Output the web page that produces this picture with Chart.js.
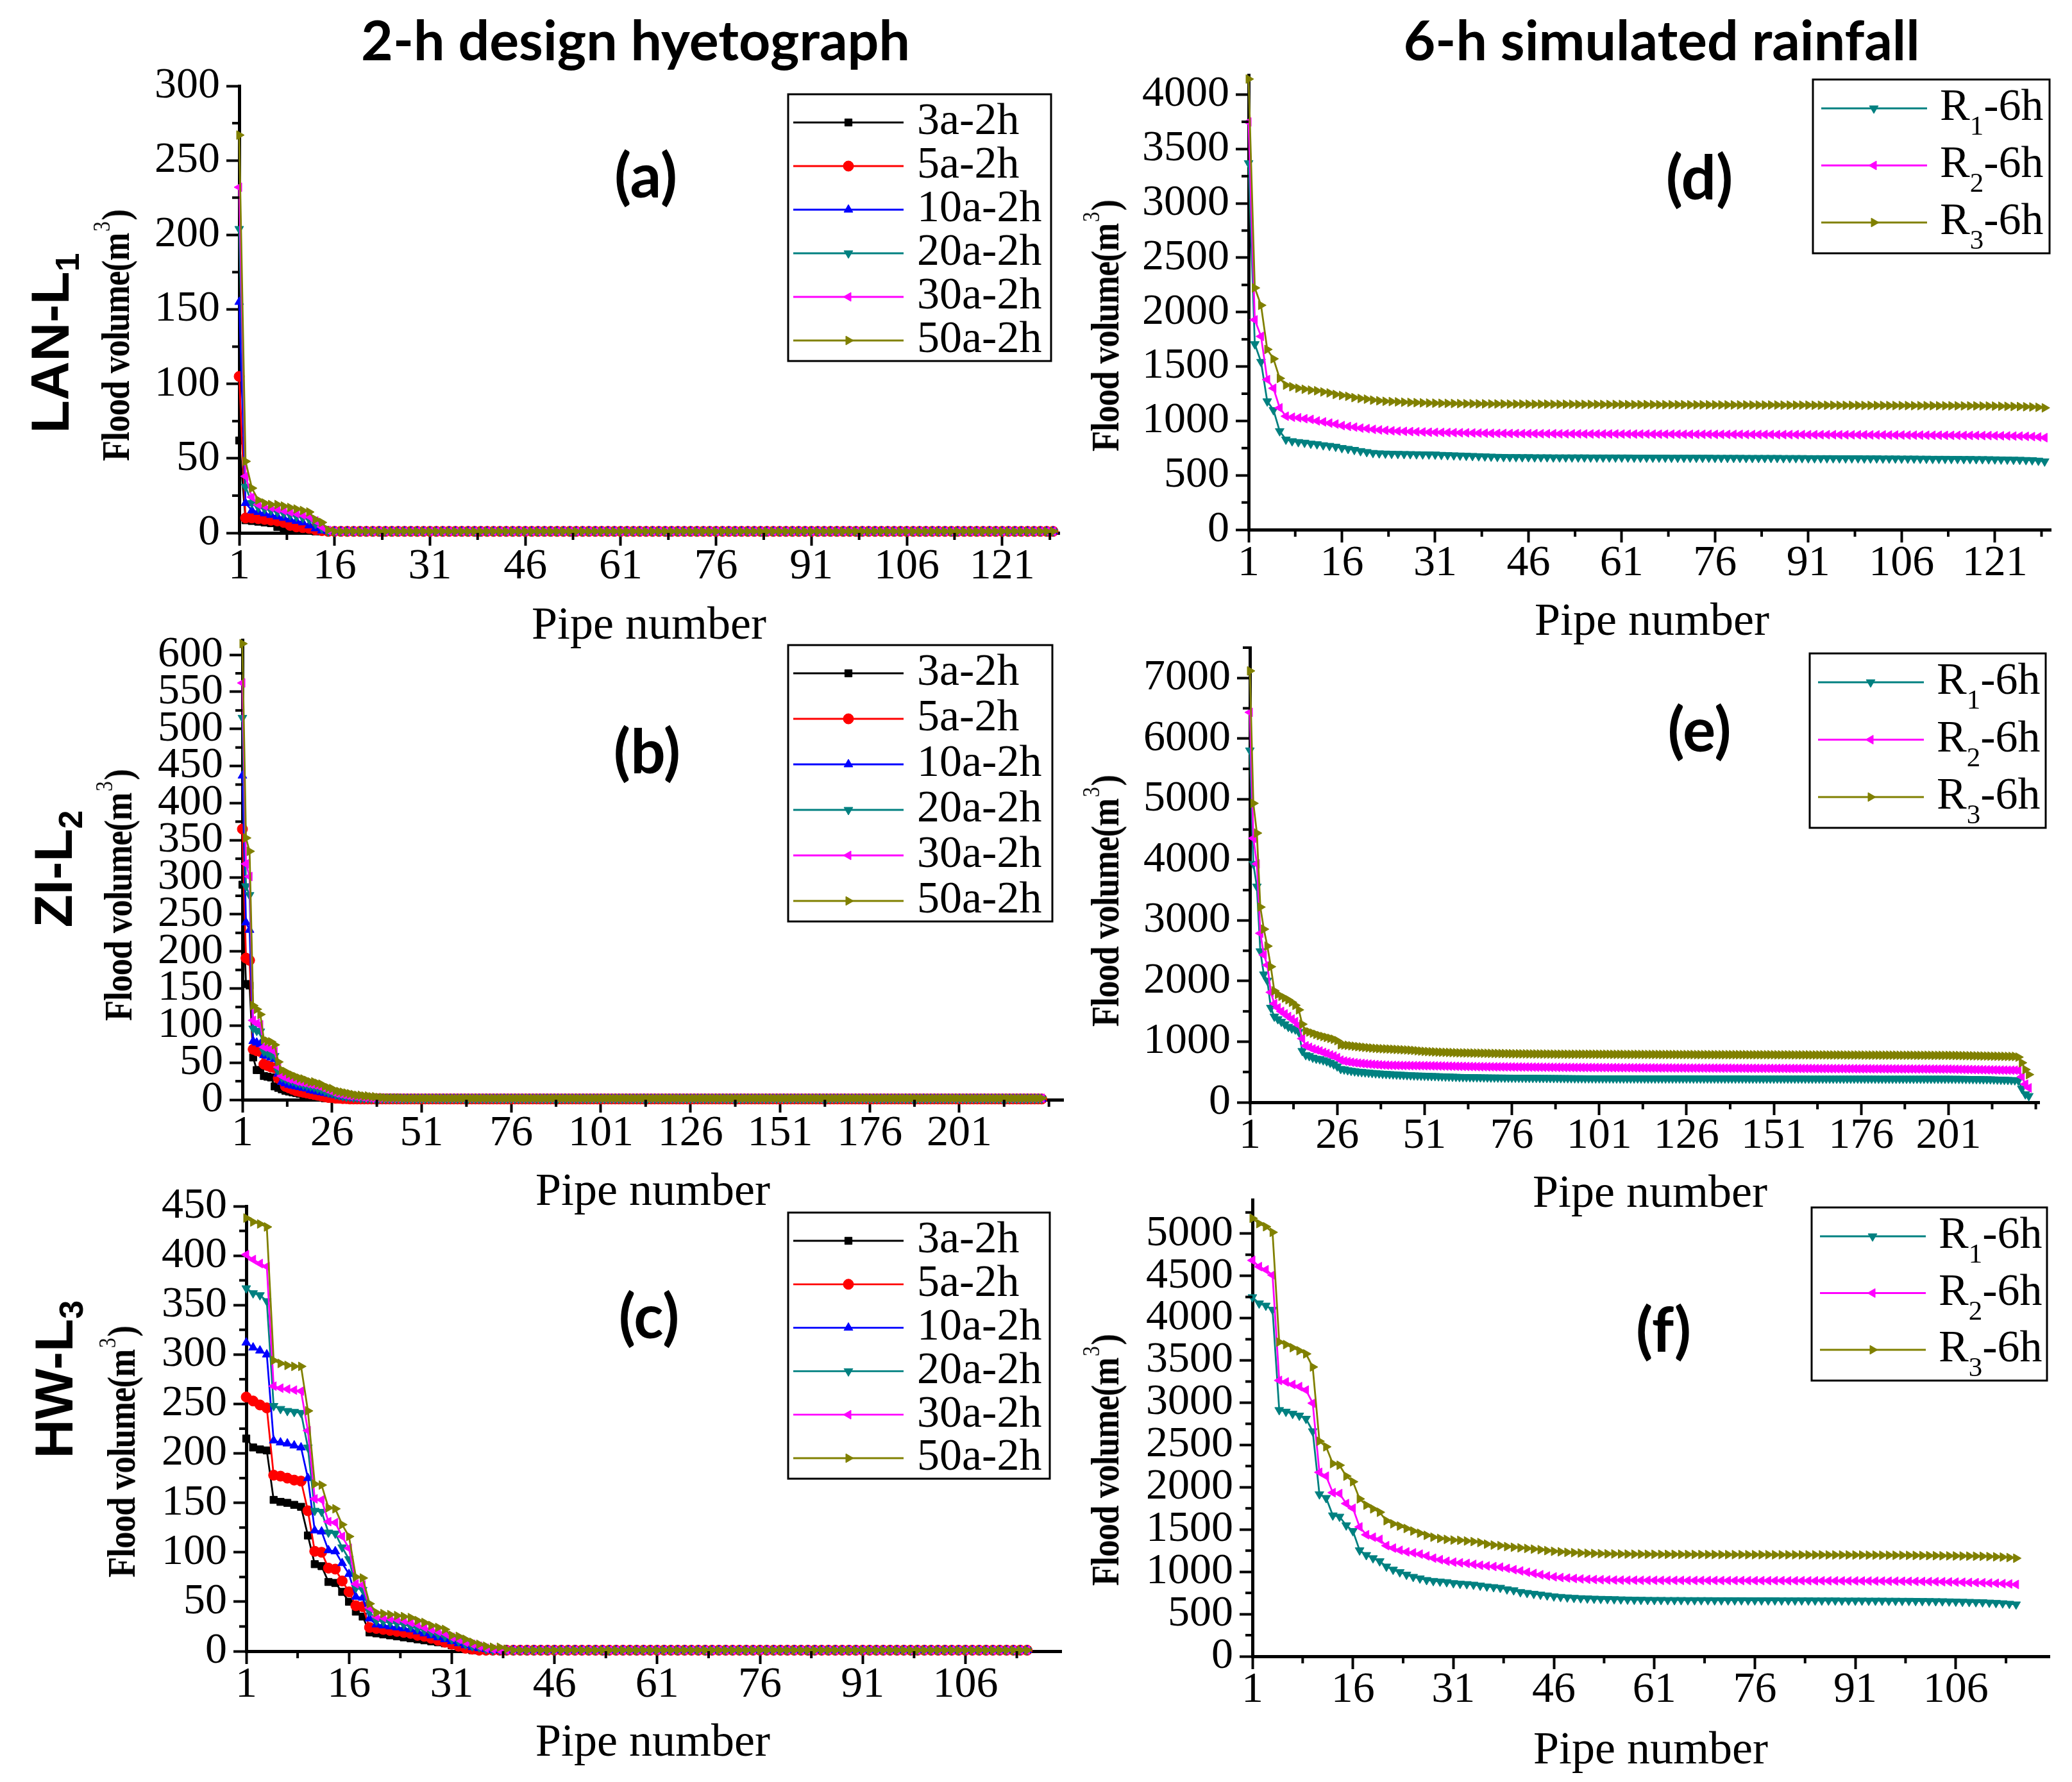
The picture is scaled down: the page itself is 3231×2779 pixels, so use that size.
<!DOCTYPE html>
<html>
<head>
<meta charset="utf-8">
<script src="https://cdn.jsdelivr.net/npm/chart.js@4.4.1/dist/chart.umd.min.js"></script>
<style>
  html, body { margin: 0; padding: 0; background: #fff; }
  #page { position: relative; width: 3231px; height: 2779px; overflow: hidden; background: #fff; }
  #page canvas { position: absolute; }
  .txt { position: absolute; white-space: nowrap; line-height: 1; color: #000; transform: translate(-50%, -50%); }
  .title { font-family: Lato, sans-serif; font-weight: 700; font-size: 86px; }
  .panel { font-family: Lato, sans-serif; font-weight: 700; font-size: 96px; }
  .row { font-family: "Liberation Sans", Arial, sans-serif; font-weight: 700; font-size: 84px; transform: translate(-50%, -50%) rotate(-90deg); }
  .ytitle { font-family: "Liberation Serif", serif; font-weight: 700; font-size: 62px; letter-spacing: -1px; transform: translate(-50%, -50%) rotate(-90deg) scaleX(0.85); }
  .xtitle { font-family: "Liberation Serif", serif; font-size: 72px; }
  .sp { position: relative; top: -0.8em; font-size: 0.6em; font-weight: 400; margin: 0 3px; }
  .sb { position: relative; top: 0.3em; font-size: 0.62em; }
</style>
</head>
<body>
<div id="page">
  <canvas id="chartA"></canvas>
  <canvas id="chartB"></canvas>
  <canvas id="chartC"></canvas>
  <canvas id="chartD"></canvas>
  <canvas id="chartE"></canvas>
  <canvas id="chartF"></canvas>

  <div class="txt title" style="left:991px; top:61px;">2-h design hyetograph</div>
  <div class="txt title" style="left:2591px; top:61px;">6-h simulated rainfall</div>

  <div class="txt panel" style="left:1007px; top:271px;">(a)</div>
  <div class="txt panel" style="left:1009px; top:1169px;">(b)</div>
  <div class="txt panel" style="left:1012px; top:2050px;">(c)</div>
  <div class="txt panel" style="left:2650px; top:274px;">(d)</div>
  <div class="txt panel" style="left:2650px; top:1135px;">(e)</div>
  <div class="txt panel" style="left:2594px; top:2071px;">(f)</div>

  <div class="txt row" style="left:78px; top:535px;">LAN-L<span class="sb">1</span></div>
  <div class="txt row" style="left:83px; top:1355px;">ZI-L<span class="sb">2</span></div>
  <div class="txt row" style="left:84px; top:2151px;">HW-L<span class="sb">3</span></div>

  <div class="txt ytitle" style="left:180px; top:523px;">Flood volume(m<span class="sp">3</span>)</div>
  <div class="txt ytitle" style="left:184px; top:1396px;">Flood volume(m<span class="sp">3</span>)</div>
  <div class="txt ytitle" style="left:189px; top:2264px;">Flood volume(m<span class="sp">3</span>)</div>
  <div class="txt ytitle" style="left:1723px; top:508px;">Flood volume(m<span class="sp">3</span>)</div>
  <div class="txt ytitle" style="left:1723px; top:1405px;">Flood volume(m<span class="sp">3</span>)</div>
  <div class="txt ytitle" style="left:1723px; top:2277px;">Flood volume(m<span class="sp">3</span>)</div>

  <div class="txt xtitle" style="left:1012px; top:972px;">Pipe number</div>
  <div class="txt xtitle" style="left:1018px; top:1855px;">Pipe number</div>
  <div class="txt xtitle" style="left:1018px; top:2714px;">Pipe number</div>
  <div class="txt xtitle" style="left:2576px; top:966px;">Pipe number</div>
  <div class="txt xtitle" style="left:2573px; top:1858px;">Pipe number</div>
  <div class="txt xtitle" style="left:2574px; top:2726px;">Pipe number</div>
</div>

<script>
// ---- series names ----
const names2h = ["3a-2h", "5a-2h", "10a-2h", "20a-2h", "30a-2h", "50a-2h"];
const names6h = ["R1-6h", "R2-6h", "R3-6h"];

// ---- axis ticks (major = labelled, minor = short marks) ----
const xTicksA = [1, 16, 31, 46, 61, 76, 91, 106, 121];
const xMinorA = [8.5, 23.5, 38.5, 53.5, 68.5, 83.5, 98.5, 113.5, 128.5];
const xTicksB = [1, 26, 51, 76, 101, 126, 151, 176, 201];
const xMinorB = [13.5, 38.5, 63.5, 88.5, 113.5, 138.5, 163.5, 188.5, 213.5, 226];
const xTicksC = [1, 16, 31, 46, 61, 76, 91, 106];
const xMinorC = [8.5, 23.5, 38.5, 53.5, 68.5, 83.5, 98.5, 113.5];

const yTicksA = [0, 50, 100, 150, 200, 250, 300];
const yMinorA = [25, 75, 125, 175, 225, 275];
const yTicksB = [0, 50, 100, 150, 200, 250, 300, 350, 400, 450, 500, 550, 600];
const yMinorB = [25, 75, 125, 175, 225, 275, 325, 375, 425, 475, 525, 575];
const yTicksC = [0, 50, 100, 150, 200, 250, 300, 350, 400, 450];
const yMinorC = [25, 75, 125, 175, 225, 275, 325, 375, 425];
const yTicksD = [0, 500, 1000, 1500, 2000, 2500, 3000, 3500, 4000];
const yMinorD = [250, 750, 1250, 1750, 2250, 2750, 3250, 3750];
const yTicksE = [0, 1000, 2000, 3000, 4000, 5000, 6000, 7000];
const yMinorE = [500, 1500, 2500, 3500, 4500, 5500, 6500, 7500];
const yTicksF = [0, 500, 1000, 1500, 2000, 2500, 3000, 3500, 4000, 4500, 5000];
const yMinorF = [250, 750, 1250, 1750, 2250, 2750, 3250, 3750, 4250, 4750, 5250];

// ---- (a) LAN-L1, 2-h design hyetograph, 129 pipes ----
const a3 = [
  62, 8.5, 8, 7.5, 7, 6.5, 4, 3.5, 3, 2.5,
  2, 1.5, 1, 1, 1, 1, 1, 1, 1, 1,
  1, 1, 1, 1, 1, 1, 1, 1, 1, 1, 1, 1, 1, 1, 1, 1, 1, 1, 1, 1,
  1, 1, 1, 1, 1, 1, 1, 1, 1, 1, 1, 1, 1, 1, 1, 1, 1, 1, 1, 1,
  1, 1, 1, 1, 1, 1, 1, 1, 1, 1, 1, 1, 1, 1, 1, 1, 1, 1, 1, 1,
  1, 1, 1, 1, 1, 1, 1, 1, 1, 1, 1, 1, 1, 1, 1, 1, 1, 1, 1, 1,
  1, 1, 1, 1, 1, 1, 1, 1, 1, 1, 1, 1, 1, 1, 1, 1, 1, 1, 1, 1,
  1, 1, 1, 1, 1, 1, 1, 1, 1
];
const a5 = [
  105, 10, 10, 9.5, 9, 8.5, 8, 7, 5, 4,
  3.5, 3, 2, 1.5, 1, 1, 1, 1, 1, 1,
  1, 1, 1, 1, 1, 1, 1, 1, 1, 1, 1, 1, 1, 1, 1, 1, 1, 1, 1, 1,
  1, 1, 1, 1, 1, 1, 1, 1, 1, 1, 1, 1, 1, 1, 1, 1, 1, 1, 1, 1,
  1, 1, 1, 1, 1, 1, 1, 1, 1, 1, 1, 1, 1, 1, 1, 1, 1, 1, 1, 1,
  1, 1, 1, 1, 1, 1, 1, 1, 1, 1, 1, 1, 1, 1, 1, 1, 1, 1, 1, 1,
  1, 1, 1, 1, 1, 1, 1, 1, 1, 1, 1, 1, 1, 1, 1, 1, 1, 1, 1, 1,
  1, 1, 1, 1, 1, 1, 1, 1, 1
];
const a10 = [
  155, 20, 15, 14, 13, 12, 11, 10, 9, 8,
  7, 5, 3, 1.5, 1, 1, 1, 1, 1, 1,
  1, 1, 1, 1, 1, 1, 1, 1, 1, 1, 1, 1, 1, 1, 1, 1, 1, 1, 1, 1,
  1, 1, 1, 1, 1, 1, 1, 1, 1, 1, 1, 1, 1, 1, 1, 1, 1, 1, 1, 1,
  1, 1, 1, 1, 1, 1, 1, 1, 1, 1, 1, 1, 1, 1, 1, 1, 1, 1, 1, 1,
  1, 1, 1, 1, 1, 1, 1, 1, 1, 1, 1, 1, 1, 1, 1, 1, 1, 1, 1, 1,
  1, 1, 1, 1, 1, 1, 1, 1, 1, 1, 1, 1, 1, 1, 1, 1, 1, 1, 1, 1,
  1, 1, 1, 1, 1, 1, 1, 1, 1
];
const a20 = [
  204, 31, 20, 17, 16, 15, 14, 13, 12, 11,
  10, 9, 6, 3, 1, 1, 1, 1, 1, 1,
  1, 1, 1, 1, 1, 1, 1, 1, 1, 1, 1, 1, 1, 1, 1, 1, 1, 1, 1, 1,
  1, 1, 1, 1, 1, 1, 1, 1, 1, 1, 1, 1, 1, 1, 1, 1, 1, 1, 1, 1,
  1, 1, 1, 1, 1, 1, 1, 1, 1, 1, 1, 1, 1, 1, 1, 1, 1, 1, 1, 1,
  1, 1, 1, 1, 1, 1, 1, 1, 1, 1, 1, 1, 1, 1, 1, 1, 1, 1, 1, 1,
  1, 1, 1, 1, 1, 1, 1, 1, 1, 1, 1, 1, 1, 1, 1, 1, 1, 1, 1, 1,
  1, 1, 1, 1, 1, 1, 1, 1, 1
];
const a30 = [
  232, 38, 24, 19, 18, 17, 16, 15, 14, 13,
  12, 11, 8, 4, 1.5, 1, 1, 1, 1, 1,
  1, 1, 1, 1, 1, 1, 1, 1, 1, 1, 1, 1, 1, 1, 1, 1, 1, 1, 1, 1,
  1, 1, 1, 1, 1, 1, 1, 1, 1, 1, 1, 1, 1, 1, 1, 1, 1, 1, 1, 1,
  1, 1, 1, 1, 1, 1, 1, 1, 1, 1, 1, 1, 1, 1, 1, 1, 1, 1, 1, 1,
  1, 1, 1, 1, 1, 1, 1, 1, 1, 1, 1, 1, 1, 1, 1, 1, 1, 1, 1, 1,
  1, 1, 1, 1, 1, 1, 1, 1, 1, 1, 1, 1, 1, 1, 1, 1, 1, 1, 1, 1,
  1, 1, 1, 1, 1, 1, 1, 1, 1
];
const a50 = [
  267, 48, 30, 22, 20, 19, 19, 18, 17, 16,
  15, 14, 9, 7, 2, 1, 1, 1, 1, 1,
  1, 1, 1, 1, 1, 1, 1, 1, 1, 1, 1, 1, 1, 1, 1, 1, 1, 1, 1, 1,
  1, 1, 1, 1, 1, 1, 1, 1, 1, 1, 1, 1, 1, 1, 1, 1, 1, 1, 1, 1,
  1, 1, 1, 1, 1, 1, 1, 1, 1, 1, 1, 1, 1, 1, 1, 1, 1, 1, 1, 1,
  1, 1, 1, 1, 1, 1, 1, 1, 1, 1, 1, 1, 1, 1, 1, 1, 1, 1, 1, 1,
  1, 1, 1, 1, 1, 1, 1, 1, 1, 1, 1, 1, 1, 1, 1, 1, 1, 1, 1, 1,
  1, 1, 1, 1, 1, 1, 1, 1, 1
];

// ---- (b) ZI-L2, 2-h design hyetograph, 224 pipes ----
const b3 = [
  290, 156, 154, 57, 40, 40, 32, 31, 30, 18,
  16, 14, 12, 11, 10, 9, 8, 7, 6, 5,
  4, 3, 3, 2, 2, 1.5, 1.5, 1, 1, 1,
  1, 1, 1, 1, 1, 1, 1, 1, 1, 1, 1, 1, 1, 1, 1, 1, 1, 1, 1, 1,
  1, 1, 1, 1, 1, 1, 1, 1, 1, 1, 1, 1, 1, 1, 1, 1, 1, 1, 1, 1,
  1, 1, 1, 1, 1, 1, 1, 1, 1, 1, 1, 1, 1, 1, 1, 1, 1, 1, 1, 1,
  1, 1, 1, 1, 1, 1, 1, 1, 1, 1, 1, 1, 1, 1, 1, 1, 1, 1, 1, 1,
  1, 1, 1, 1, 1, 1, 1, 1, 1, 1, 1, 1, 1, 1, 1, 1, 1, 1, 1, 1,
  1, 1, 1, 1, 1, 1, 1, 1, 1, 1, 1, 1, 1, 1, 1, 1, 1, 1, 1, 1,
  1, 1, 1, 1, 1, 1, 1, 1, 1, 1, 1, 1, 1, 1, 1, 1, 1, 1, 1, 1,
  1, 1, 1, 1, 1, 1, 1, 1, 1, 1, 1, 1, 1, 1, 1, 1, 1, 1, 1, 1,
  1, 1, 1, 1, 1, 1, 1, 1, 1, 1, 1, 1, 1, 1, 1, 1, 1, 1, 1, 1,
  1, 1, 1, 1, 1, 1, 1, 1, 1, 1, 1, 1, 1, 1
];
const b5 = [
  365, 191, 188, 68, 66, 65, 48, 46, 44, 43,
  29, 26, 18, 16, 14, 12, 11, 10, 9, 8,
  7, 6, 5, 4, 3, 3, 2, 2, 1.5, 1.5,
  1, 1, 1, 1, 1, 1, 1, 1, 1, 1, 1, 1, 1, 1, 1, 1, 1, 1, 1, 1,
  1, 1, 1, 1, 1, 1, 1, 1, 1, 1, 1, 1, 1, 1, 1, 1, 1, 1, 1, 1,
  1, 1, 1, 1, 1, 1, 1, 1, 1, 1, 1, 1, 1, 1, 1, 1, 1, 1, 1, 1,
  1, 1, 1, 1, 1, 1, 1, 1, 1, 1, 1, 1, 1, 1, 1, 1, 1, 1, 1, 1,
  1, 1, 1, 1, 1, 1, 1, 1, 1, 1, 1, 1, 1, 1, 1, 1, 1, 1, 1, 1,
  1, 1, 1, 1, 1, 1, 1, 1, 1, 1, 1, 1, 1, 1, 1, 1, 1, 1, 1, 1,
  1, 1, 1, 1, 1, 1, 1, 1, 1, 1, 1, 1, 1, 1, 1, 1, 1, 1, 1, 1,
  1, 1, 1, 1, 1, 1, 1, 1, 1, 1, 1, 1, 1, 1, 1, 1, 1, 1, 1, 1,
  1, 1, 1, 1, 1, 1, 1, 1, 1, 1, 1, 1, 1, 1, 1, 1, 1, 1, 1, 1,
  1, 1, 1, 1, 1, 1, 1, 1, 1, 1, 1, 1, 1, 1
];
const b10 = [
  437, 239, 229, 79, 77, 75, 60, 59, 57, 55,
  35, 24, 22, 20, 19, 18, 17, 16, 15, 13,
  12, 11, 10, 9, 8, 7, 6, 5, 4, 3,
  3, 2, 2, 2, 1.5, 1.5, 1, 1, 1, 1,
  1, 1, 1, 1, 1, 1, 1, 1, 1, 1, 1, 1, 1, 1, 1, 1, 1, 1, 1, 1,
  1, 1, 1, 1, 1, 1, 1, 1, 1, 1, 1, 1, 1, 1, 1, 1, 1, 1, 1, 1,
  1, 1, 1, 1, 1, 1, 1, 1, 1, 1, 1, 1, 1, 1, 1, 1, 1, 1, 1, 1,
  1, 1, 1, 1, 1, 1, 1, 1, 1, 1, 1, 1, 1, 1, 1, 1, 1, 1, 1, 1,
  1, 1, 1, 1, 1, 1, 1, 1, 1, 1, 1, 1, 1, 1, 1, 1, 1, 1, 1, 1,
  1, 1, 1, 1, 1, 1, 1, 1, 1, 1, 1, 1, 1, 1, 1, 1, 1, 1, 1, 1,
  1, 1, 1, 1, 1, 1, 1, 1, 1, 1, 1, 1, 1, 1, 1, 1, 1, 1, 1, 1,
  1, 1, 1, 1, 1, 1, 1, 1, 1, 1, 1, 1, 1, 1, 1, 1, 1, 1, 1, 1,
  1, 1, 1, 1, 1, 1, 1, 1, 1, 1, 1, 1, 1, 1, 1, 1, 1, 1, 1, 1,
  1, 1, 1, 1
];
const b20 = [
  515, 288, 276, 96, 93, 92, 65, 63, 60, 59,
  38, 30, 28, 26, 25, 23, 22, 20, 19, 18,
  17, 15, 14, 12, 10, 9, 7, 6, 5, 4,
  4, 3, 3, 2, 2, 2, 1.5, 1.5, 1.5, 1.5,
  1.5, 1.5, 1.5, 1.5, 1.5, 1.5, 1.5, 1.5, 1.5, 1.5, 1.5, 1.5, 1.5, 1.5, 1.5, 1.5, 1.5, 1.5, 1.5, 1.5,
  1.5, 1.5, 1.5, 1.5, 1.5, 1.5, 1.5, 1.5, 1.5, 1.5, 1.5, 1.5, 1.5, 1.5, 1.5, 1.5, 1.5, 1.5, 1.5, 1.5,
  1.5, 1.5, 1.5, 1.5, 1.5, 1.5, 1.5, 1.5, 1.5, 1.5, 1.5, 1.5, 1.5, 1.5, 1.5, 1.5, 1.5, 1.5, 1.5, 1.5,
  1.5, 1.5, 1.5, 1.5, 1.5, 1.5, 1.5, 1.5, 1.5, 1.5, 1.5, 1.5, 1.5, 1.5, 1.5, 1.5, 1.5, 1.5, 1.5, 1.5,
  1.5, 1.5, 1.5, 1.5, 1.5, 1.5, 1.5, 1.5, 1.5, 1.5, 1.5, 1.5, 1.5, 1.5, 1.5, 1.5, 1.5, 1.5, 1.5, 1.5,
  1.5, 1.5, 1.5, 1.5, 1.5, 1.5, 1.5, 1.5, 1.5, 1.5, 1.5, 1.5, 1.5, 1.5, 1.5, 1.5, 1.5, 1.5, 1.5, 1.5,
  1.5, 1.5, 1.5, 1.5, 1.5, 1.5, 1.5, 1.5, 1.5, 1.5, 1.5, 1.5, 1.5, 1.5, 1.5, 1.5, 1.5, 1.5, 1.5, 1.5,
  1.5, 1.5, 1.5, 1.5, 1.5, 1.5, 1.5, 1.5, 1.5, 1.5, 1.5, 1.5, 1.5, 1.5, 1.5, 1.5, 1.5, 1.5, 1.5, 1.5,
  1.5, 1.5, 1.5, 1.5, 1.5, 1.5, 1.5, 1.5, 1.5, 1.5, 1.5, 1.5, 1.5, 1.5, 1.5, 1.5, 1.5, 1.5, 1.5, 1.5,
  1.5, 1.5, 1.5, 1.5
];
const b30 = [
  562, 318, 301, 107, 103, 101, 71, 70, 68, 65,
  44, 32, 30, 28, 27, 25, 24, 23, 22, 21,
  20, 19, 17, 15, 13, 11, 9, 8, 7, 6,
  5, 5, 4, 4, 3, 3, 2, 2, 2, 2,
  2, 2, 2, 2, 2, 2, 2, 2, 2, 2, 2, 2, 2, 2, 2, 2, 2, 2, 2, 2,
  2, 2, 2, 2, 2, 2, 2, 2, 2, 2, 2, 2, 2, 2, 2, 2, 2, 2, 2, 2,
  2, 2, 2, 2, 2, 2, 2, 2, 2, 2, 2, 2, 2, 2, 2, 2, 2, 2, 2, 2,
  2, 2, 2, 2, 2, 2, 2, 2, 2, 2, 2, 2, 2, 2, 2, 2, 2, 2, 2, 2,
  2, 2, 2, 2, 2, 2, 2, 2, 2, 2, 2, 2, 2, 2, 2, 2, 2, 2, 2, 2,
  2, 2, 2, 2, 2, 2, 2, 2, 2, 2, 2, 2, 2, 2, 2, 2, 2, 2, 2, 2,
  2, 2, 2, 2, 2, 2, 2, 2, 2, 2, 2, 2, 2, 2, 2, 2, 2, 2, 2, 2,
  2, 2, 2, 2, 2, 2, 2, 2, 2, 2, 2, 2, 2, 2, 2, 2, 2, 2, 2, 2,
  2, 2, 2, 2, 2, 2, 2, 2, 2, 2, 2, 2, 2, 2, 2, 2, 2, 2, 2, 2,
  2, 2, 2, 2
];
const b50 = [
  615, 353, 335, 127, 122, 115, 81, 79, 78, 74,
  51, 40, 38, 35, 33, 31, 29, 28, 26, 24,
  24, 22, 21, 18, 16, 15, 12, 11, 10, 9,
  8, 7, 6, 6, 5, 5, 4, 4, 3, 3,
  2.5, 2.5, 2.5, 2.5, 2.5, 2, 2, 2, 2, 2,
  2, 2, 2, 2, 2, 2, 2, 2, 2, 2, 2, 2, 2, 2, 2, 2, 2, 2, 2, 2,
  2, 2, 2, 2, 2, 2, 2, 2, 2, 2, 2, 2, 2, 2, 2, 2, 2, 2, 2, 2,
  2, 2, 2, 2, 2, 2, 2, 2, 2, 2, 2, 2, 2, 2, 2, 2, 2, 2, 2, 2,
  2, 2, 2, 2, 2, 2, 2, 2, 2, 2, 2, 2, 2, 2, 2, 2, 2, 2, 2, 2,
  2, 2, 2, 2, 2, 2, 2, 2, 2, 2, 2, 2, 2, 2, 2, 2, 2, 2, 2, 2,
  2, 2, 2, 2, 2, 2, 2, 2, 2, 2, 2, 2, 2, 2, 2, 2, 2, 2, 2, 2,
  2, 2, 2, 2, 2, 2, 2, 2, 2, 2, 2, 2, 2, 2, 2, 2, 2, 2, 2, 2,
  2, 2, 2, 2, 2, 2, 2, 2, 2, 2, 2, 2, 2, 2, 2, 2, 2, 2, 2, 2,
  2, 2, 2, 2, 2, 2, 2, 2, 2, 2, 2, 2, 2, 2
];

// ---- (c) HW-L3, 2-h design hyetograph, 115 pipes ----
const c3 = [
  215, 206, 204, 203, 153, 151, 150, 148, 146, 117,
  88, 86, 70, 69, 60, 50, 40, 35, 19, 18,
  17, 16, 15, 14, 13, 12, 11, 10, 9, 8,
  6, 4, 2, 1, 1, 1, 1, 1, 1, 1,
  1, 1, 1, 1, 1, 1, 1, 1, 1, 1, 1, 1, 1, 1, 1, 1, 1, 1, 1, 1,
  1, 1, 1, 1, 1, 1, 1, 1, 1, 1, 1, 1, 1, 1, 1, 1, 1, 1, 1, 1,
  1, 1, 1, 1, 1, 1, 1, 1, 1, 1, 1, 1, 1, 1, 1, 1, 1, 1, 1, 1,
  1, 1, 1, 1, 1, 1, 1, 1, 1, 1, 1, 1, 1, 1, 1
];
const c5 = [
  257, 253, 249, 246, 178, 177, 175, 173, 172, 142,
  101, 100, 84, 83, 71, 60, 46, 45, 24, 23,
  22, 21, 20, 19, 18, 16, 15, 13, 11, 9,
  7, 5, 3, 2, 1, 1, 1, 1, 1, 1,
  1, 1, 1, 1, 1, 1, 1, 1, 1, 1, 1, 1, 1, 1, 1, 1, 1, 1, 1, 1,
  1, 1, 1, 1, 1, 1, 1, 1, 1, 1, 1, 1, 1, 1, 1, 1, 1, 1, 1, 1,
  1, 1, 1, 1, 1, 1, 1, 1, 1, 1, 1, 1, 1, 1, 1, 1, 1, 1, 1, 1,
  1, 1, 1, 1, 1, 1, 1, 1, 1, 1, 1, 1, 1, 1, 1
];
const c10 = [
  312, 307, 304, 300, 213, 211, 210, 208, 206, 175,
  122, 121, 102, 101, 89, 78, 55, 54, 33, 27,
  26, 25, 24, 23, 22, 20, 18, 16, 14, 12,
  10, 8, 6, 4, 3, 2, 1, 1, 1, 1,
  1, 1, 1, 1, 1, 1, 1, 1, 1, 1, 1, 1, 1, 1, 1, 1, 1, 1, 1, 1,
  1, 1, 1, 1, 1, 1, 1, 1, 1, 1, 1, 1, 1, 1, 1, 1, 1, 1, 1, 1,
  1, 1, 1, 1, 1, 1, 1, 1, 1, 1, 1, 1, 1, 1, 1, 1, 1, 1, 1, 1,
  1, 1, 1, 1, 1, 1, 1, 1, 1, 1, 1, 1, 1, 1, 1
];
const c20 = [
  367, 362, 360, 354, 248, 245, 243, 242, 241, 206,
  142, 141, 120, 119, 105, 93, 64, 62, 40, 31,
  30, 29, 28, 27, 25, 23, 21, 19, 17, 15,
  12, 10, 7, 5, 4, 2, 1, 1, 1, 1,
  1, 1, 1, 1, 1, 1, 1, 1, 1, 1, 1, 1, 1, 1, 1, 1, 1, 1, 1, 1,
  1, 1, 1, 1, 1, 1, 1, 1, 1, 1, 1, 1, 1, 1, 1, 1, 1, 1, 1, 1,
  1, 1, 1, 1, 1, 1, 1, 1, 1, 1, 1, 1, 1, 1, 1, 1, 1, 1, 1, 1,
  1, 1, 1, 1, 1, 1, 1, 1, 1, 1, 1, 1, 1, 1, 1
];
const c30 = [
  401, 396, 392, 389, 268, 266, 265, 264, 263, 223,
  154, 153, 131, 130, 116, 104, 68, 67, 44, 35,
  34, 33, 32, 31, 29, 27, 24, 22, 20, 18,
  14, 12, 9, 7, 5, 3, 2, 1, 1, 1,
  1, 1, 1, 1, 1, 1, 1, 1, 1, 1, 1, 1, 1, 1, 1, 1, 1, 1, 1, 1,
  1, 1, 1, 1, 1, 1, 1, 1, 1, 1, 1, 1, 1, 1, 1, 1, 1, 1, 1, 1,
  1, 1, 1, 1, 1, 1, 1, 1, 1, 1, 1, 1, 1, 1, 1, 1, 1, 1, 1, 1,
  1, 1, 1, 1, 1, 1, 1, 1, 1, 1, 1, 1, 1, 1, 1
];
const c50 = [
  438, 434, 432, 429, 294, 291, 289, 288, 288, 243,
  169, 168, 145, 144, 128, 116, 75, 74, 48, 39,
  38, 37, 36, 35, 34, 31, 29, 26, 24, 22,
  16, 15, 12, 9, 7, 5, 4, 4, 2, 1,
  1, 1, 1, 1, 1, 1, 1, 1, 1, 1, 1, 1, 1, 1, 1, 1, 1, 1, 1, 1,
  1, 1, 1, 1, 1, 1, 1, 1, 1, 1, 1, 1, 1, 1, 1, 1, 1, 1, 1, 1,
  1, 1, 1, 1, 1, 1, 1, 1, 1, 1, 1, 1, 1, 1, 1, 1, 1, 1, 1, 1,
  1, 1, 1, 1, 1, 1, 1, 1, 1, 1, 1, 1, 1, 1, 1
];

// ---- (d) LAN-L1, 6-h simulated rainfall, 129 pipes ----
const d1 = [
  3370, 1706, 1543, 1180, 1100, 906, 829, 814, 806, 800,
  791, 786, 777, 771, 763, 751, 743, 734, 723, 714,
  706, 702, 700, 698, 697, 696, 695, 694, 693, 692,
  691, 688, 686, 684, 682, 680, 678, 676, 674, 672,
  670, 669, 668, 668, 667, 667, 666, 666, 666, 665,
  665, 665, 665, 665, 665, 664, 664, 664, 664, 664,
  664, 664, 663, 663, 663, 663, 663, 663, 662, 662,
  662, 662, 662, 662, 662, 661, 661, 661, 661, 661,
  660, 660, 660, 660, 660, 660, 659, 659, 659, 659,
  658, 658, 658, 658, 658, 657, 657, 657, 657, 656,
  656, 656, 655, 655, 655, 654, 654, 654, 653, 653,
  652, 652, 652, 651, 651, 650, 650, 649, 649, 648,
  647, 646, 645, 644, 643, 641, 639, 635, 628
];
const d2 = [
  3748, 1929, 1777, 1380, 1300, 1120, 1043, 1034, 1029, 1020,
  1014, 1000, 991, 980, 971, 957, 949, 943, 934, 929,
  922, 917, 913, 909, 906, 904, 902, 900, 898, 896,
  895, 894, 893, 892, 891, 890, 889, 888, 887, 886,
  885, 885, 884, 884, 883, 883, 883, 882, 882, 882,
  881, 881, 881, 881, 880, 880, 880, 880, 880, 880,
  879, 879, 879, 879, 879, 878, 878, 878, 878, 878,
  877, 877, 877, 877, 877, 876, 876, 876, 876, 876,
  875, 875, 875, 875, 875, 874, 874, 874, 874, 874,
  873, 873, 873, 873, 873, 872, 872, 872, 872, 872,
  871, 871, 871, 870, 870, 870, 869, 869, 869, 868,
  868, 868, 867, 867, 867, 866, 866, 866, 865, 865,
  864, 863, 862, 861, 860, 858, 856, 852, 846
];
const d3 = [
  4143, 2223, 2063, 1657, 1571, 1391, 1329, 1314, 1300, 1291,
  1283, 1277, 1266, 1257, 1243, 1234, 1226, 1214, 1206, 1200,
  1191, 1185, 1180, 1178, 1175, 1172, 1170, 1168, 1166, 1164,
  1163, 1162, 1161, 1160, 1159, 1158, 1158, 1157, 1157, 1156,
  1156, 1156, 1155, 1155, 1155, 1154, 1154, 1154, 1154, 1153,
  1153, 1153, 1153, 1152, 1152, 1152, 1152, 1151, 1151, 1151,
  1151, 1150, 1150, 1150, 1150, 1150, 1149, 1149, 1149, 1149,
  1149, 1148, 1148, 1148, 1148, 1148, 1147, 1147, 1147, 1147,
  1147, 1146, 1146, 1146, 1146, 1146, 1145, 1145, 1145, 1145,
  1145, 1144, 1144, 1144, 1144, 1143, 1143, 1143, 1143, 1142,
  1142, 1142, 1142, 1141, 1141, 1141, 1141, 1140, 1140, 1140,
  1140, 1139, 1139, 1139, 1139, 1138, 1138, 1138, 1137, 1137,
  1136, 1135, 1134, 1133, 1132, 1130, 1128, 1125, 1120
];

// ---- (e) ZI-L2, 6-h simulated rainfall, 224 pipes ----
const e1 = [
  5805, 3932, 3559, 2491, 2110, 2008, 1559, 1415, 1373, 1330,
  1288, 1246, 1220, 1203, 1161, 847, 780, 763, 737, 720,
  712, 695, 678, 653, 627, 593, 551, 542, 530, 520,
  512, 505, 500, 495, 490, 485, 480, 476, 472, 468,
  465, 462, 459, 456, 453, 450, 447, 444, 442, 441,
  439, 437, 435, 433, 431, 429, 427, 425, 423, 421,
  419, 418, 417, 416, 415, 414, 413, 412, 411, 410,
  410, 409, 409, 408, 408, 407, 407, 406, 406, 405,
  405, 404, 404, 403, 403, 402, 402, 401, 401, 400,
  400, 399, 399, 398, 398, 398, 397, 397, 397, 396,
  396, 396, 396, 396, 395, 395, 395, 395, 395, 395,
  395, 395, 395, 394, 394, 394, 394, 394, 394, 394,
  394, 394, 394, 394, 394, 394, 394, 393, 393, 393,
  393, 393, 393, 393, 393, 393, 393, 393, 393, 393,
  393, 393, 393, 392, 392, 392, 392, 392, 392, 392,
  392, 392, 392, 392, 392, 392, 392, 392, 392, 392,
  391, 391, 391, 391, 391, 391, 391, 391, 391, 391,
  391, 391, 391, 391, 391, 391, 391, 391, 391, 391,
  390, 390, 390, 390, 390, 390, 390, 390, 390, 390,
  390, 390, 390, 390, 390, 390, 390, 390, 390, 390,
  390, 389, 389, 388, 388, 387, 386, 385, 384, 383,
  382, 381, 380, 378, 376, 374, 372, 370, 368, 365,
  360, 225, 134, 104
];
const e2 = [
  6433, 4356, 3932, 2788, 2432, 2263, 1814, 1627, 1559, 1500,
  1458, 1415, 1373, 1330, 1271, 1051, 932, 907, 881, 864,
  847, 822, 805, 780, 763, 737, 695, 680, 670, 660,
  652, 645, 640, 635, 630, 626, 622, 618, 615, 612,
  610, 609, 608, 607, 606, 606, 605, 605, 604, 604,
  603, 602, 601, 600, 599, 598, 597, 596, 595, 594,
  593, 592, 591, 590, 589, 588, 587, 587, 586, 586,
  585, 585, 584, 584, 583, 583, 582, 582, 581, 581,
  580, 580, 579, 579, 578, 578, 577, 577, 576, 576,
  575, 575, 575, 574, 574, 574, 573, 573, 573, 573,
  572, 572, 572, 571, 571, 571, 570, 570, 570, 570,
  569, 569, 569, 568, 568, 568, 568, 567, 567, 567,
  567, 566, 566, 566, 566, 565, 565, 565, 565, 565,
  564, 564, 564, 564, 563, 563, 563, 563, 562, 562,
  562, 562, 561, 561, 561, 561, 560, 560, 560, 560,
  559, 559, 559, 559, 558, 558, 558, 558, 557, 557,
  557, 557, 556, 556, 556, 556, 555, 555, 555, 555,
  554, 554, 554, 554, 553, 553, 553, 553, 552, 552,
  552, 552, 551, 551, 551, 551, 550, 550, 550, 550,
  549, 549, 549, 549, 548, 548, 548, 548, 547, 547,
  547, 546, 545, 544, 543, 542, 541, 540, 539, 538,
  537, 536, 535, 534, 533, 532, 531, 530, 530, 530,
  525, 420, 299, 238
];
const e3 = [
  7116, 4932, 4441, 3220, 2856, 2576, 2237, 1839, 1780, 1750,
  1720, 1690, 1650, 1600, 1525, 1288, 1178, 1160, 1140, 1120,
  1100, 1085, 1070, 1055, 1040, 1017, 949, 945, 940, 932,
  925, 918, 912, 906, 900, 895, 890, 886, 883, 881,
  878, 875, 872, 869, 866, 863, 860, 856, 850, 845,
  840, 837, 834, 831, 828, 826, 824, 822, 820, 818,
  816, 815, 814, 813, 812, 811, 810, 809, 808, 807,
  806, 805, 804, 803, 802, 801, 800, 800, 799, 799,
  798, 798, 797, 797, 796, 796, 795, 795, 794, 794,
  794, 793, 793, 793, 793, 793, 793, 793, 793, 793,
  792, 792, 792, 792, 791, 791, 791, 791, 790, 790,
  790, 790, 790, 789, 789, 789, 789, 789, 788, 788,
  788, 788, 788, 787, 787, 787, 787, 787, 786, 786,
  786, 786, 786, 785, 785, 785, 785, 785, 785, 785,
  785, 785, 785, 784, 784, 784, 784, 784, 784, 784,
  784, 783, 783, 783, 783, 783, 782, 782, 782, 782,
  782, 781, 781, 781, 781, 781, 780, 780, 780, 780,
  780, 779, 779, 779, 779, 779, 778, 778, 778, 778,
  778, 777, 777, 777, 777, 777, 776, 776, 776, 776,
  776, 775, 775, 775, 775, 775, 774, 774, 774, 774,
  774, 773, 772, 771, 770, 769, 768, 767, 766, 765,
  764, 763, 762, 761, 760, 759, 758, 757, 756, 756,
  745, 652, 540, 457
];

// ---- (f) HW-L3, 6-h simulated rainfall, 115 pipes ----
const f1 = [
  4248, 4174, 4148, 4100, 2913, 2894, 2869, 2847, 2810, 2662,
  1917, 1873, 1667, 1652, 1549, 1482, 1254, 1198, 1161, 1125,
  1062, 1025, 996, 966, 940, 922, 903, 892, 885, 878,
  866, 859, 855, 848, 837, 826, 819, 811, 793, 782,
  760, 750, 740, 730, 720, 710, 703, 697, 692, 688,
  685, 682, 680, 678, 676, 674, 672, 670, 669, 668,
  667, 667, 666, 666, 666, 665, 665, 665, 665, 664,
  664, 664, 664, 664, 663, 663, 663, 663, 663, 662,
  662, 662, 662, 662, 661, 661, 661, 661, 660, 660,
  660, 660, 659, 659, 659, 658, 658, 657, 657, 656,
  655, 654, 653, 652, 650, 648, 646, 644, 642, 640,
  636, 632, 628, 622, 614
];
const f2 = [
  4683, 4609, 4572, 4509, 3263, 3245, 3215, 3190, 3149, 2994,
  2176, 2131, 1936, 1925, 1807, 1751, 1530, 1438, 1409, 1383,
  1309, 1280, 1254, 1235, 1224, 1209, 1187, 1161, 1143, 1125,
  1114, 1106, 1099, 1088, 1077, 1069, 1062, 1055, 1040, 1025,
  1010, 995, 980, 965, 950, 940, 932, 926, 920, 915,
  911, 908, 906, 904, 902, 901, 900, 900, 899, 899,
  899, 898, 898, 898, 898, 897, 897, 897, 897, 897,
  896, 896, 896, 896, 896, 895, 895, 895, 895, 895,
  894, 894, 894, 894, 893, 893, 893, 893, 892, 892,
  892, 891, 891, 890, 890, 889, 889, 888, 887, 886,
  885, 884, 883, 882, 880, 878, 876, 874, 872, 870,
  867, 864, 860, 856, 850
];
const f3 = [
  5181, 5118, 5081, 5015, 3717, 3687, 3650, 3614, 3577, 3422,
  2544, 2478, 2279, 2260, 2131, 2065, 1862, 1788, 1744, 1704,
  1604, 1567, 1541, 1512, 1482, 1456, 1431, 1409, 1394, 1383,
  1375, 1372, 1364, 1357, 1346, 1327, 1316, 1309, 1298, 1290,
  1283, 1276, 1268, 1261, 1250, 1242, 1236, 1230, 1226, 1222,
  1219, 1216, 1214, 1212, 1211, 1210, 1209, 1208, 1208, 1207,
  1207, 1206, 1206, 1206, 1205, 1205, 1205, 1204, 1204, 1204,
  1203, 1203, 1203, 1203, 1202, 1202, 1202, 1202, 1201, 1201,
  1201, 1201, 1200, 1200, 1200, 1200, 1199, 1199, 1199, 1199,
  1198, 1198, 1197, 1197, 1196, 1196, 1195, 1195, 1194, 1193,
  1192, 1191, 1190, 1189, 1188, 1187, 1186, 1185, 1184, 1183,
  1180, 1177, 1174, 1168, 1160
];

// ---- styling ----
const styles2h = [
  { color: "#000000", shape: "rect", rot: 0 },
  { color: "#ff0000", shape: "circle", rot: 0 },
  { color: "#0000ff", shape: "triangle", rot: 0 },
  { color: "#008080", shape: "triangle", rot: 180 },
  { color: "#ff00ff", shape: "triangle", rot: -90 },
  { color: "#808000", shape: "triangle", rot: 90 },
];
const styles6h = [styles2h[3], styles2h[4], styles2h[5]];

const PAD_L = 230, PAD_T = 60, PAD_R = 40, PAD_B = 130;
const TICK_FONT = 68, LEG_FONT = 70, MARK_R = 8, LINE_W = 2.8;

// draw a legend marker the same way Chart.js draws point styles
const drawMarker = (ctx, st, x, y) => {
  ctx.save();
  ctx.fillStyle = st.color;
  ctx.strokeStyle = st.color;
  ctx.lineWidth = 1;
  ctx.beginPath();
  if (st.shape === "circle") {
    ctx.arc(x, y, MARK_R, 0, Math.PI * 2);
  } else if (st.shape === "rect") {
    const s = MARK_R * Math.SQRT1_2;
    ctx.rect(x - s, y - s, 2 * s, 2 * s);
  } else {
    let a = (st.rot * Math.PI) / 180;
    for (let k = 0; k < 3; k++) {
      const px = x + Math.sin(a) * MARK_R;
      const py = y - Math.cos(a) * MARK_R;
      if (k === 0) ctx.moveTo(px, py); else ctx.lineTo(px, py);
      a += (2 * Math.PI) / 3;
    }
    ctx.closePath();
  }
  ctx.fill();
  ctx.stroke();
  ctx.restore();
};

// legend text, with the digit after "R" set as a subscript
const drawLegendText = (ctx, label, x, y) => {
  ctx.fillStyle = "#000";
  ctx.textBaseline = "middle";
  ctx.textAlign = "left";
  const big = `${LEG_FONT}px "Liberation Serif"`;
  const small = `${Math.round(LEG_FONT * 0.62)}px "Liberation Serif"`;
  const m = /^R(\d)(.*)$/.exec(label);
  ctx.font = big;
  if (!m) {
    ctx.fillText(label, x, y);
    return;
  }
  ctx.fillText("R", x, y);
  let cx = x + ctx.measureText("R").width;
  ctx.font = small;
  ctx.fillText(m[1], cx, y + 30);
  cx += ctx.measureText(m[1]).width;
  ctx.font = big;
  ctx.fillText(m[2], cx, y);
};

// minor ticks + boxed legend
const extrasPlugin = {
  id: "extras",
  afterDraw(chart, args, opts) {
    const ctx = chart.ctx;
    const area = chart.chartArea;
    const xs = chart.scales.x;
    const ys = chart.scales.y;
    ctx.save();
    ctx.strokeStyle = "#000";
    ctx.lineWidth = 4;
    opts.xMinor.forEach((v) => {
      const px = xs.getPixelForValue(v);
      ctx.beginPath();
      ctx.moveTo(px, area.bottom);
      ctx.lineTo(px, area.bottom + 11);
      ctx.stroke();
    });
    opts.yMinor.forEach((v) => {
      const py = ys.getPixelForValue(v);
      ctx.beginPath();
      ctx.moveTo(area.left, py);
      ctx.lineTo(area.left - 11, py);
      ctx.stroke();
    });

    // legend box (page coordinates converted to canvas coordinates)
    const lg = opts.legend;
    const bx = lg.box[0] - opts.origin[0];
    const by = lg.box[1] - opts.origin[1];
    const bw = lg.box[2];
    const bh = lg.box[3];
    ctx.fillStyle = "#fff";
    ctx.fillRect(bx, by, bw, bh);
    ctx.lineWidth = 3;
    ctx.strokeStyle = "#000";
    ctx.strokeRect(bx, by, bw, bh);
    const n = lg.names.length;
    const gap = (bh - lg.first - lg.last) / (n - 1);
    lg.names.forEach((name, i) => {
      const st = lg.styles[i];
      const y = by + lg.first + i * gap;
      ctx.strokeStyle = st.color;
      ctx.lineWidth = LINE_W;
      ctx.beginPath();
      ctx.moveTo(bx + lg.line[0], y);
      ctx.lineTo(bx + lg.line[1], y);
      ctx.stroke();
      drawMarker(ctx, st, bx + lg.mark, y);
      drawLegendText(ctx, name, bx + lg.text, y);
    });
    ctx.restore();
  },
};

const buildDatasets = (seriesList, names, styles) =>
  seriesList.map((vals, i) => ({
    label: names[i],
    data: vals.map((v, k) => ({ x: k + 1, y: v })),
    borderColor: styles[i].color,
    backgroundColor: styles[i].color,
    borderWidth: LINE_W,
    pointStyle: styles[i].shape,
    rotation: styles[i].rot,
    pointRadius: MARK_R,
    pointBorderWidth: 1,
    pointBackgroundColor: styles[i].color,
    pointBorderColor: styles[i].color,
    tension: 0,
    clip: false,
    order: seriesList.length - i,
  }));

const makePanel = (p) => {
  const canvas = document.getElementById(p.id);
  const w = p.area[2] - p.area[0] + PAD_L + PAD_R;
  const h = p.area[3] - p.area[1] + PAD_T + PAD_B;
  const left = p.area[0] - PAD_L;
  const top = p.area[1] - PAD_T;
  canvas.width = w;
  canvas.height = h;
  canvas.style.left = left + "px";
  canvas.style.top = top + "px";
  canvas.style.width = w + "px";
  canvas.style.height = h + "px";

  const legendStyle = p.names.length === 6
    ? { first: 44, last: 32, line: [8, 180], mark: 94, text: 201 }
    : { first: 45, last: 48, line: [13, 178], mark: 95, text: 198 };

  new Chart(canvas.getContext("2d"), {
    type: "line",
    data: { datasets: buildDatasets(p.series, p.names, p.styles) },
    options: {
      responsive: false,
      animation: false,
      devicePixelRatio: 1,
      layout: { padding: { left: 0, top: PAD_T, right: PAD_R, bottom: 0 } },
      plugins: {
        legend: { display: false },
        tooltip: { enabled: false },
        extras: {
          xMinor: p.xMinor,
          yMinor: p.yMinor,
          origin: [left, top],
          legend: { box: p.legendBox, names: p.names, styles: p.styles, ...legendStyle },
        },
      },
      scales: {
        x: {
          type: "linear",
          min: 1,
          max: p.xMax,
          afterBuildTicks: (scale) => { scale.ticks = p.xTicks.map((v) => ({ value: v })); },
          afterFit: (scale) => { scale.height = PAD_B; },
          border: { display: true, color: "#000", width: 5 },
          grid: { display: true, drawOnChartArea: false, drawTicks: true, tickLength: 20, tickWidth: 4, tickColor: "#000" },
          ticks: {
            color: "#000",
            font: { family: "Liberation Serif", size: TICK_FONT },
            padding: -8,
            maxRotation: 0,
            autoSkip: false,
            callback: (v) => String(v),
          },
        },
        y: {
          type: "linear",
          min: 0,
          max: p.yMax,
          afterBuildTicks: (scale) => { scale.ticks = p.yTicks.map((v) => ({ value: v })); },
          afterFit: (scale) => { scale.width = PAD_L; },
          border: { display: true, color: "#000", width: 5 },
          grid: { display: true, drawOnChartArea: false, drawTicks: true, tickLength: 20, tickWidth: 4, tickColor: "#000" },
          ticks: {
            color: "#000",
            font: { family: "Liberation Serif", size: TICK_FONT },
            padding: 10,
            autoSkip: false,
            callback: (v) => String(v),
          },
        },
      },
    },
    plugins: [extrasPlugin],
  });
};

// chart area on the page: [left, top, right, bottom]
const panels = [
  { id: "chartA", area: [373, 134, 1652, 831], xMax: 130, yMax: 300,
    xTicks: xTicksA, xMinor: xMinorA, yTicks: yTicksA, yMinor: yMinorA,
    series: [a3, a5, a10, a20, a30, a50], names: names2h, styles: styles2h,
    legendBox: [1229, 147, 410, 416] },
  { id: "chartB", area: [378, 998, 1658, 1715], xMax: 230, yMax: 620,
    xTicks: xTicksB, xMinor: xMinorB, yTicks: yTicksB, yMinor: yMinorB,
    series: [b3, b5, b10, b20, b30, b50], names: names2h, styles: styles2h,
    legendBox: [1229, 1006, 412, 431] },
  { id: "chartC", area: [384, 1881, 1655, 2575], xMax: 120, yMax: 450,
    xTicks: xTicksC, xMinor: xMinorC, yTicks: yTicksC, yMinor: yMinorC,
    series: [c3, c5, c10, c20, c30, c50], names: names2h, styles: styles2h,
    legendBox: [1229, 1891, 408, 415] },
  { id: "chartD", area: [1947, 117, 3198, 826], xMax: 130, yMax: 4180,
    xTicks: xTicksA, xMinor: xMinorA, yTicks: yTicksD, yMinor: yMinorD,
    series: [d1, d2, d3], names: names6h, styles: styles6h,
    legendBox: [2827, 124, 369, 271] },
  { id: "chartE", area: [1949, 1010, 3180, 1719], xMax: 227, yMax: 7500,
    xTicks: xTicksB, xMinor: xMinorB, yTicks: yTicksE, yMinor: yMinorE,
    series: [e1, e2, e3], names: names6h, styles: styles6h,
    legendBox: [2822, 1019, 368, 272] },
  { id: "chartF", area: [1953, 1871, 3196, 2583], xMax: 120, yMax: 5400,
    xTicks: xTicksC, xMinor: xMinorC, yTicks: yTicksF, yMinor: yMinorF,
    series: [f1, f2, f3], names: names6h, styles: styles6h,
    legendBox: [2825, 1883, 367, 270] },
];

panels.forEach(makePanel);
</script>
</body>
</html>
